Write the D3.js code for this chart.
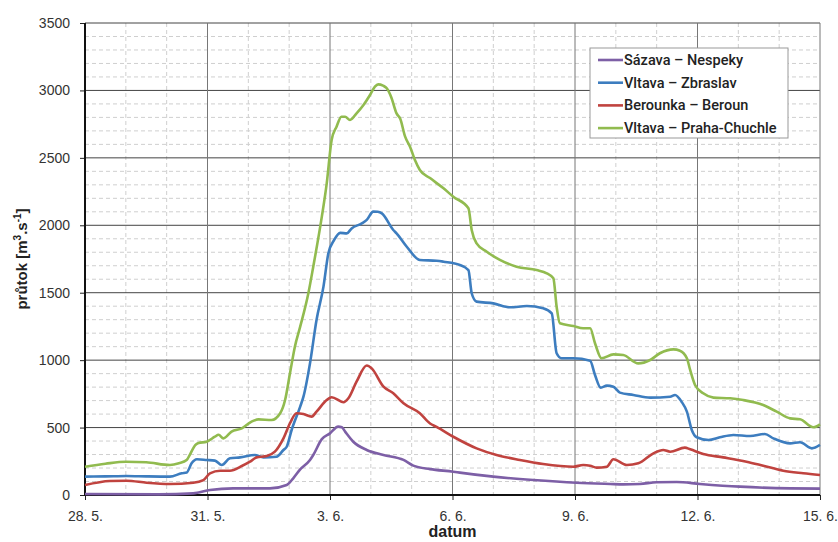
<!DOCTYPE html>
<html><head><meta charset="utf-8">
<script src="https://cdn.jsdelivr.net/npm/d3@7"></script>
<style>
body{margin:0;background:#fff;}
text{font-family:"Liberation Sans",Arial,sans-serif;}
</style>
</head><body>
<svg id="chart" width="838" height="542"></svg>
<script>
// x values are day offsets from 28. 5.
const xTickValues = [0, 3, 6, 9, 12, 15, 18];
const xTickLabels = ["28. 5.", "31. 5.", "3. 6.", "6. 6.", "9. 6.", "12. 6.", "15. 6."];
const yTickValues = [0, 500, 1000, 1500, 2000, 2500, 3000, 3500];
const seriesNames = ["Sázava – Nespeky", "Vltava – Zbraslav", "Berounka – Beroun", "Vltava – Praha-Chuchle"];
const seriesColors = ["#7d5fa6", "#3d7dbf", "#c0433f", "#91bb4f"];

const sazava = [[0,7],[1.8,5],[2.65,12],[3.06,37],[3.63,49],[4.53,49],[4.94,74],[5.1,124],[5.27,190],[5.51,260],[5.59,297],[5.8,414],[6.0,457],[6.2,507],[6.29,502],[6.37,470],[6.57,395],[6.9,334],[7.31,297],[7.8,260],[8.04,218],[8.45,192],[9.02,173],[9.18,166],[10.0,136],[10.98,111],[12.04,91],[12.86,82],[13.18,79],[13.59,82],[14.0,94],[14.49,96],[15.06,82],[16.04,62],[17.27,49],[18,47]];

const zbraslav = [[0,136],[0.5,138],[1.02,141],[1.5,138],[2.08,136],[2.37,161],[2.49,166],[2.61,235],[2.74,265],[2.98,260],[3.18,255],[3.35,222],[3.55,272],[3.8,279],[4.16,297],[4.37,279],[4.69,284],[4.86,334],[4.94,358],[5.06,482],[5.27,655],[5.35,729],[5.51,976],[5.67,1298],[5.84,1545],[5.96,1792],[6.1,1890],[6.25,1944],[6.41,1940],[6.53,1977],[6.78,2014],[6.9,2040],[7.06,2101],[7.17,2100],[7.27,2088],[7.55,1965],[7.63,1940],[7.88,1841],[8.2,1743],[8.61,1737],[8.78,1730],[9.18,1706],[9.39,1668],[9.47,1496],[9.59,1434],[10.0,1421],[10.41,1392],[10.82,1401],[11.22,1384],[11.43,1347],[11.55,1051],[11.67,1014],[11.96,1014],[12.37,996],[12.49,890],[12.63,796],[12.78,811],[12.94,803],[13.1,759],[13.43,742],[13.84,722],[14.33,729],[14.45,742],[14.61,692],[14.74,618],[14.86,482],[14.98,428],[15.27,408],[15.55,428],[15.88,445],[16.29,437],[16.65,452],[16.86,420],[17.27,383],[17.51,391],[17.8,346],[18,371]];

const beroun = [[0,74],[0.61,104],[1.02,106],[1.51,91],[2.08,82],[2.65,91],[2.9,111],[3.06,161],[3.31,180],[3.55,180],[3.84,215],[4.04,247],[4.2,279],[4.45,289],[4.65,321],[4.86,420],[5.02,532],[5.18,606],[5.35,600],[5.55,581],[5.67,618],[5.92,704],[6.04,725],[6.33,688],[6.45,717],[6.65,840],[6.9,960],[7.02,939],[7.31,803],[7.55,754],[7.8,680],[8.2,606],[8.45,530],[8.61,505],[9.02,432],[9.59,346],[10.08,297],[10.65,260],[11.22,230],[11.96,210],[12.2,222],[12.37,217],[12.53,203],[12.78,210],[12.94,265],[13.27,222],[13.55,235],[13.92,309],[14.16,334],[14.33,321],[14.69,351],[14.82,339],[15.14,304],[15.63,279],[16.2,247],[16.61,217],[17.1,180],[17.59,161],[18,148]];

const chuchle = [[0,210],[0.5,232],[1.0,247],[1.5,243],[2.08,222],[2.3,235],[2.49,259],[2.57,300],[2.7,370],[2.78,385],[2.98,395],[3.18,432],[3.27,447],[3.39,420],[3.59,470],[3.84,494],[4.08,544],[4.25,561],[4.57,556],[4.78,606],[4.9,704],[5.02,902],[5.14,1100],[5.27,1248],[5.47,1496],[5.59,1693],[5.8,2064],[5.92,2311],[6.04,2632],[6.16,2731],[6.28,2805],[6.37,2805],[6.49,2781],[6.65,2830],[6.82,2892],[6.98,2966],[7.1,3028],[7.18,3045],[7.3,3035],[7.39,3016],[7.5,2950],[7.63,2830],[7.72,2790],[7.84,2657],[7.96,2583],[8.08,2484],[8.2,2410],[8.45,2350],[8.78,2274],[9.02,2212],[9.39,2126],[9.47,1965],[9.59,1866],[9.84,1804],[10.16,1743],[10.57,1693],[11.06,1668],[11.31,1644],[11.47,1607],[11.55,1396],[11.63,1273],[11.96,1253],[12.2,1236],[12.37,1236],[12.49,1125],[12.65,1014],[12.94,1043],[13.18,1038],[13.55,976],[13.84,1001],[14.08,1051],[14.41,1080],[14.57,1070],[14.74,1014],[14.82,927],[14.94,816],[15.14,754],[15.39,722],[15.8,717],[16.12,704],[16.61,667],[16.94,618],[17.27,568],[17.51,561],[17.84,502],[18,524]];

const allSeries = [sazava, zbraslav, beroun, chuchle];

const svg = d3.select("#chart");
const L = 85, R = 820, T = 23, B = 495;
const x = d3.scaleLinear().domain([0, 18]).range([L, R]);
const y = d3.scaleLinear().domain([0, 3500]).range([B, T]);

const g = svg.append("g");
// minor grid
g.append("g").selectAll("line").data(d3.range(0, 3501, 100).filter(v => v % 500 !== 0))
  .join("line").attr("x1", L).attr("x2", R).attr("y1", d => y(d)).attr("y2", d => y(d))
  .attr("stroke", "#cfcfcf").attr("stroke-width", 1).attr("stroke-dasharray", "4,3");
g.append("g").selectAll("line").data(d3.range(0, 19, 1).filter(v => v % 3 !== 0))
  .join("line").attr("y1", T).attr("y2", B).attr("x1", d => x(d)).attr("x2", d => x(d))
  .attr("stroke", "#cfcfcf").attr("stroke-width", 1).attr("stroke-dasharray", "4,3");
// major grid
g.append("g").selectAll("line").data(yTickValues.slice(1))
  .join("line").attr("x1", L).attr("x2", R).attr("y1", d => y(d)).attr("y2", d => y(d))
  .attr("stroke", "#444").attr("stroke-width", 1);
g.append("g").selectAll("line").data(xTickValues.slice(1))
  .join("line").attr("y1", T).attr("y2", B).attr("x1", d => x(d)).attr("x2", d => x(d))
  .attr("stroke", "#777").attr("stroke-width", 1);

// axes
const yAxis = d3.axisLeft(y).tickValues(yTickValues).tickSize(5).tickPadding(10).tickFormat(d3.format("d"));
const yg = svg.append("g").attr("transform", `translate(${L},0)`).call(yAxis);
yg.select(".domain").remove();
yg.selectAll("line").attr("stroke", "#222");
yg.selectAll("text").attr("font-size", 14).attr("fill", "#333")
  .style("font-family", "'Liberation Sans',Arial,sans-serif");

const xAxis = d3.axisBottom(x).tickValues(xTickValues).tickSize(5).tickPadding(11)
  .tickFormat((d, i) => xTickLabels[i]);
const xg = svg.append("g").attr("transform", `translate(0,${B})`).call(xAxis);
xg.select(".domain").remove();
xg.selectAll("line").attr("stroke", "#222");
xg.selectAll("text").attr("font-size", 14).attr("fill", "#333")
  .style("font-family", "'Liberation Sans',Arial,sans-serif");

svg.append("line").attr("x1", L).attr("x2", L).attr("y1", T).attr("y2", B + 1)
  .attr("stroke", "#111").attr("stroke-width", 2);
svg.append("line").attr("x1", L - 1).attr("x2", R).attr("y1", B).attr("y2", B)
  .attr("stroke", "#111").attr("stroke-width", 2);

// lines
const line = d3.line().x(d => x(d[0])).y(d => y(d[1])).curve(d3.curveMonotoneX);
svg.append("g").selectAll("path").data(allSeries).join("path")
  .attr("d", line).attr("fill", "none")
  .attr("stroke", (d, i) => seriesColors[i]).attr("stroke-width", 2.6)
  .attr("stroke-linejoin", "round");

// axis titles
svg.append("text").attr("x", (L + R) / 2).attr("y", 537).attr("text-anchor", "middle")
  .attr("font-size", 16).attr("font-weight", "bold").attr("fill", "#222").text("datum");
const yt = svg.append("text").attr("transform", `translate(27,${(T + B) / 2}) rotate(-90)`)
  .attr("text-anchor", "middle").attr("font-size", 15).attr("font-weight", "bold").attr("fill", "#222");
yt.append("tspan").text("průtok [m");
yt.append("tspan").attr("font-size", 10).attr("dy", -6).text("3");
yt.append("tspan").attr("dy", 6).text(".s");
yt.append("tspan").attr("font-size", 10).attr("dy", -6).text("-1");
yt.append("tspan").attr("dy", 6).text("]");

// legend
const lg = svg.append("g");
lg.append("rect").attr("x", 590).attr("y", 48).attr("width", 198).attr("height", 90)
  .attr("fill", "#fff").attr("stroke", "#999").attr("stroke-width", 1);
const items = lg.selectAll("g.item").data(seriesNames).join("g").attr("class", "item")
  .attr("transform", (d, i) => `translate(0,${60 + i * 22.7})`);
items.append("line").attr("x1", 598).attr("x2", 623).attr("y1", 0).attr("y2", 0)
  .attr("stroke", (d, i) => seriesColors[i]).attr("stroke-width", 2.6);
items.append("text").attr("x", 624).attr("y", 5).attr("font-size", 14.5)
  .style("font-family", "Roboto,'Liberation Sans',sans-serif")
  .attr("fill", "#222").attr("font-weight", 500).text(d => d);
</script>
</body></html>
